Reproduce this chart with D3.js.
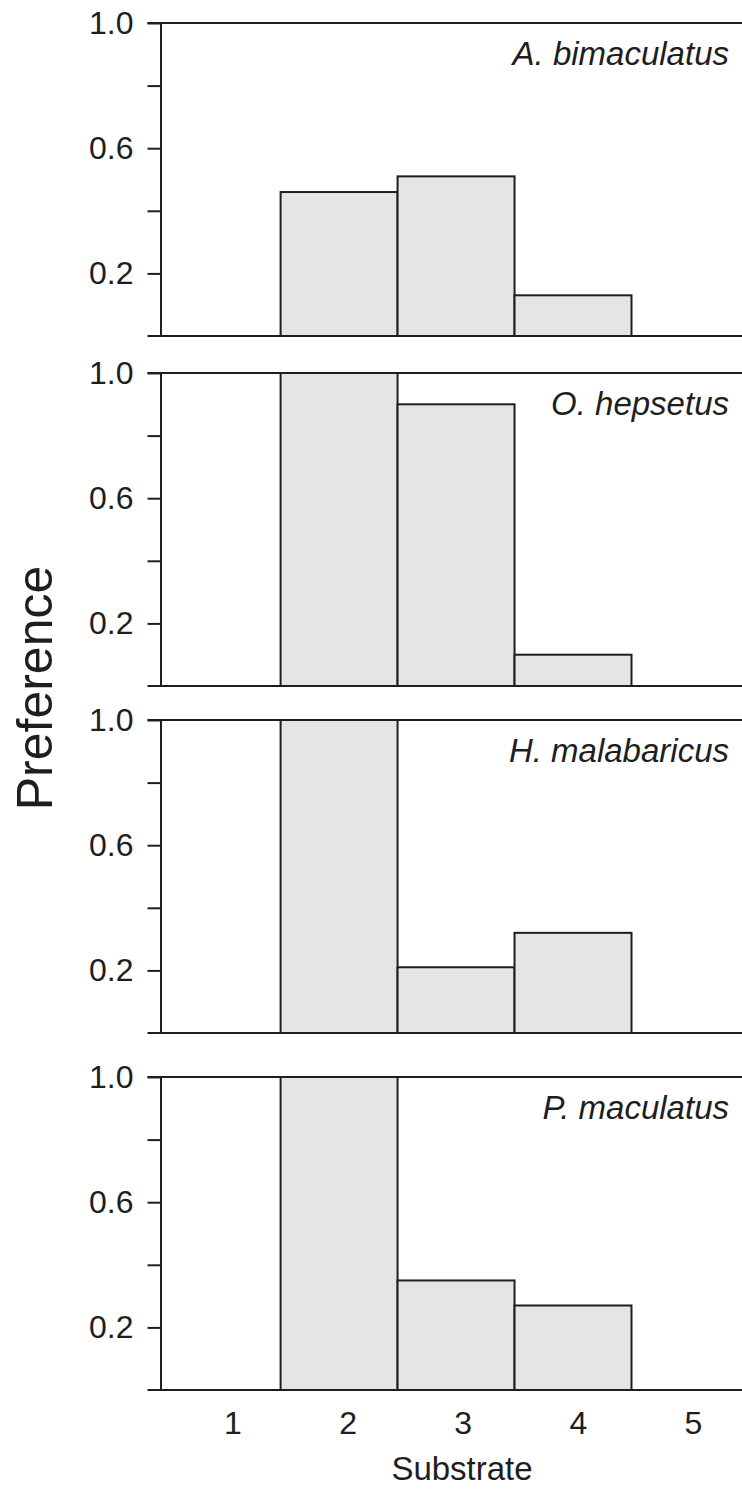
<!DOCTYPE html>
<html>
<head>
<meta charset="utf-8">
<script src="https://cdn.jsdelivr.net/npm/d3@7"></script>
<style>
  body { margin: 0; background: #fff; }
  svg { display: block; font-family: "Liberation Sans", Arial, sans-serif; }
  .axis path, .axis line { stroke: #1e1e1e; stroke-width: 2; }
  .axis text { fill: #1e1e1e; font-size: 32px; }
</style>
</head>
<body>
<svg id="chart"></svg>
<script>

// substrate classes and preference values
var substrates = [1, 2, 3, 4, 5];
var species = ["A. bimaculatus", "O. hepsetus", "H. malabaricus", "P. maculatus"];
var prefA = [0, 0.46, 0.51, 0.13, 0];
var prefO = [0, 1.0, 0.9, 0.1, 0];
var prefH = [0, 1.0, 0.21, 0.32, 0];
var prefP = [0, 1.0, 0.35, 0.27, 0];
var yTicks = [0.2, 0.4, 0.6, 0.8, 1.0];
var yLabels = [0.2, 0.6, 1.0];

var allPrefs = [prefA, prefO, prefH, prefP];

var width = 742, height = 1490;
var left = 160.5, right = 742;
var panelTops = [23, 373, 720, 1077];
var panelH = 313;

var svg = d3.select("#chart")
    .attr("width", width)
    .attr("height", height);

// bars sit on a unit-wide band around each substrate
var x = d3.scaleLinear()
    .domain([1.5, 4.5])
    .range([280.6, 631.5]);

// the category labels in the figure are spaced a little tighter than the bars
var xLab = d3.scaleLinear()
    .domain([1, 5])
    .range([232.5, 693]);

species.forEach(function (name, i) {

    var top = panelTops[i];
    var y = d3.scaleLinear()
        .domain([0, 1])
        .range([top + panelH, top]);

    var g = svg.append("g");

    var bars = substrates.map(function (s, j) {
        return {s: s, v: allPrefs[i][j]};
    }).filter(function (d) { return d.v > 0; });

    g.selectAll("rect")
        .data(bars)
        .enter()
        .append("rect")
        .attr("x", function (d) { return x(d.s - 0.5); })
        .attr("width", function (d) { return x(d.s + 0.5) - x(d.s - 0.5); })
        .attr("y", function (d) { return y(d.v); })
        .attr("height", function (d) { return y(0) - y(d.v); })
        .attr("fill", "#e4e5e4")
        .attr("stroke", "#1e1e1e")
        .attr("stroke-width", 2);

    var axis = d3.axisLeft(y)
        .tickValues(yTicks)
        .tickSize(13)
        .tickSizeOuter(0)
        .tickPadding(14)
        .tickFormat(function (d) {
            return yLabels.indexOf(d) >= 0 ? d3.format(".1f")(d) : "";
        });

    g.append("g")
        .attr("class", "axis")
        .attr("transform", "translate(" + left + ",0)")
        .call(axis);

    // top and bottom frame lines run out to the page edge
    [0, 1].forEach(function (v) {
        g.append("line")
            .attr("x1", left - 13)
            .attr("x2", right)
            .attr("y1", y(v))
            .attr("y2", y(v))
            .attr("stroke", "#1e1e1e")
            .attr("stroke-width", 2);
    });

    g.append("text")
        .attr("x", 729)
        .attr("y", top + 42)
        .attr("text-anchor", "end")
        .style("font-size", "33px")
        .style("font-style", "italic")
        .attr("fill", "#1e1e1e")
        .text(name);
});

// x labels under the last panel
var lastBottom = panelTops[3] + panelH;

var xAxis = d3.axisBottom(xLab)
    .tickValues(substrates)
    .tickSize(0)
    .tickPadding(21)
    .tickFormat(d3.format("d"));

svg.append("g")
    .attr("class", "axis")
    .attr("transform", "translate(0," + lastBottom + ")")
    .call(xAxis)
    .call(function (s) { s.select(".domain").remove(); });

svg.append("text")
    .attr("x", 462)
    .attr("y", 1480)
    .attr("text-anchor", "middle")
    .style("font-size", "33px")
    .attr("fill", "#1e1e1e")
    .text("Substrate");

svg.append("text")
    .attr("transform", "translate(52,688) rotate(-90)")
    .attr("text-anchor", "middle")
    .style("font-size", "50px")
    .attr("fill", "#1e1e1e")
    .text("Preference");

</script>
</body>
</html>
